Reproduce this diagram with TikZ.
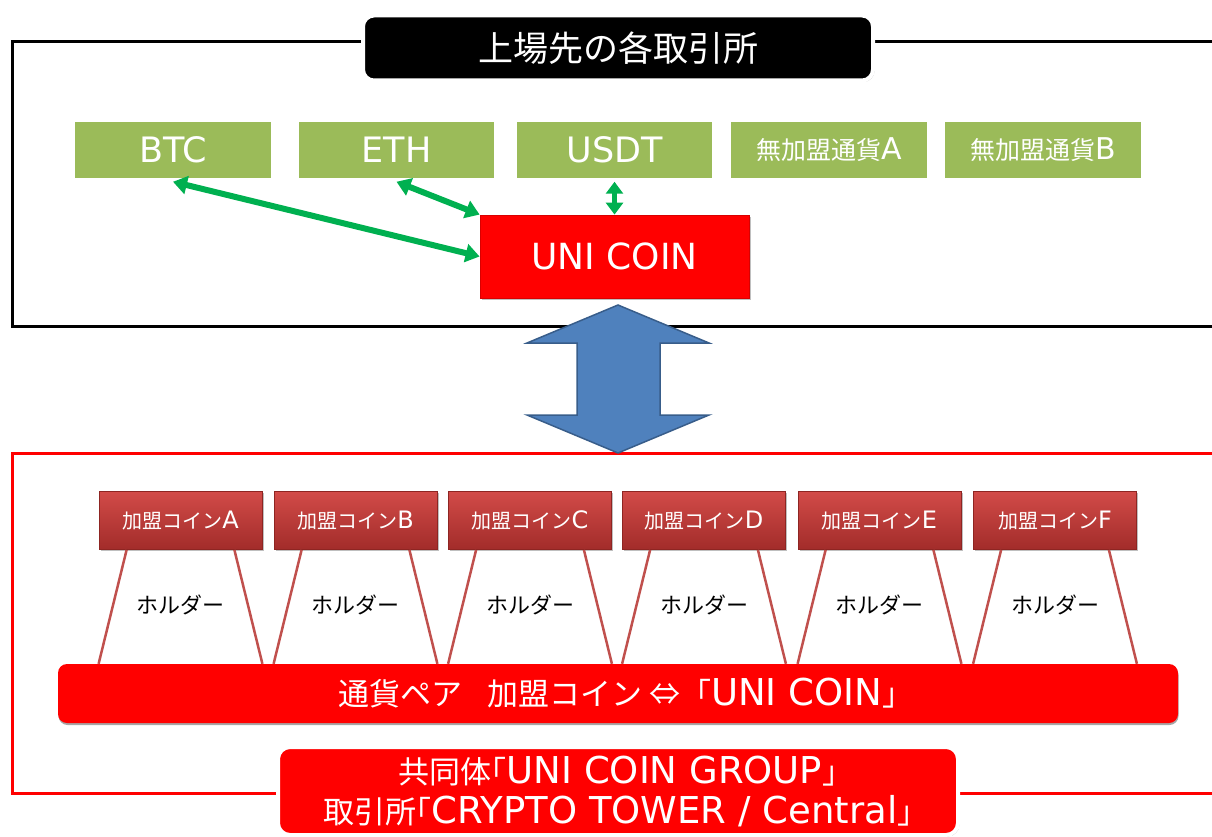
\documentclass[tikz,border=0pt]{standalone}
\usepackage{fontspec}
\setmainfont{Noto Sans CJK JP}
\newfontfamily\latfont{DejaVu Sans}
\newfontfamily\jphalt{Noto Sans CJK JP}[RawFeature=+halt]
\newcommand\latn[2]{{\latfont\fontsize{#1}{#1}\selectfont #2}}
\newcommand\lbrk{{\jphalt 「}}
\newcommand\rbrk{{\jphalt 」}}
\usetikzlibrary{arrows.meta,shadows,calc}
\definecolor{cgreen}{HTML}{9BBB59}
\definecolor{cagreen}{HTML}{00B050}
\definecolor{cblue}{HTML}{4F81BD}
\definecolor{cblueedge}{HTML}{385D8A}
\definecolor{ccointop}{HTML}{D24B48}
\definecolor{ccoinbot}{HTML}{A22C2A}
\definecolor{ccoinedge}{HTML}{8E2522}
\definecolor{cholder}{HTML}{C0504D}
\definecolor{cred}{HTML}{FF0000}
\begin{document}
\begin{tikzpicture}[x=1pt,y=-1pt,
  softshadow/.style={drop shadow={shadow xshift=1.5pt,shadow yshift=-1.5pt,opacity=0.25,fill=black}},
  greenbox/.style={draw=white,line width=3.5pt,fill=cgreen,text=white,minimum width=199pt,minimum height=60pt,inner sep=0pt,softshadow},
  coinbox/.style={draw=ccoinedge,line width=0.8pt,top color=ccointop,bottom color=ccoinbot,text=white,minimum width=163pt,minimum height=58pt,inner sep=0pt,font=\fontsize{20}{24}\selectfont,softshadow},
  holderline/.style={draw=cholder,line width=2.5pt},
  holdertext/.style={text=black,font=\fontsize{22}{24}\selectfont},
  garrow/.style={draw=cagreen,line width=6pt,{Triangle[length=14pt,width=18pt]}-{Triangle[length=14pt,width=18pt]}},
  frameline/.style={line width=3pt}
]
\useasboundingbox (0,0) rectangle (1212,837);
% top frame
\draw[frameline,black] (1212,42) -- (12,42) -- (12,326) -- (1212,326);
% bottom frame
\draw[frameline,cred] (1212,453) -- (12,453) -- (12,793) -- (1212,793);
% title
\node[fill=black,draw=white,line width=4pt,rounded corners=11pt,minimum width=510pt,minimum height=65pt,text=white,font=\fontsize{35}{38}\selectfont,softshadow] (title) at (618,48) {上場先の各取引所};
% green boxes
\node[greenbox] (btc) at (173,150) {\latn{35}{BTC}};
\node[greenbox] (eth) at (396.5,150) {\latn{35}{ETH}};
\node[greenbox] (usdt) at (614.5,150) {\latn{35}{USDT}};
\node[greenbox,font=\fontsize{25}{30}\selectfont] (na) at (829,150) {無加盟通貨\latn{30}{A}};
\node[greenbox,font=\fontsize{25}{30}\selectfont] (nb) at (1043,150) {無加盟通貨\latn{30}{B}};
% UNI COIN
\node[fill=cred,draw=red!85!black,line width=0.8pt,minimum width=269pt,minimum height=83pt,text=white,softshadow] (uni) at (614.5,256.5) {\latn{36}{UNI COIN}};
% green arrows
\draw[garrow] (btc.south) -- (uni.west);
\draw[garrow] (eth.south) -- (uni.north west);
\draw[draw=cagreen,line width=5.5pt,{Triangle[length=12pt,width=17pt]}-{Triangle[length=12pt,width=17pt]}] (usdt.south) -- (uni.north);
% blue double arrow
\draw[fill=cblue,draw=cblueedge,line width=1.5pt,line join=miter] (618,305) -- (709,343) -- (660,343) -- (660,415) -- (709,415) -- (618,453) -- (527,415) -- (577,415) -- (577,343) -- (527,343) -- cycle;
% bar
\node[fill=cred,rounded corners=9pt,minimum width=1120pt,minimum height=59pt,inner sep=0pt,text=white,font=\fontsize{31}{34}\selectfont,drop shadow={shadow xshift=0.5pt,shadow yshift=-2pt,opacity=0.35,fill=black}] (bar) at (618,693.5) {通貨ペア\hspace{0.8em}加盟コイン ⇔\hspace{0.5em}\lbrk\latn{37}{UNI COIN}\rbrk};
% coins
\node[coinbox] (cA) at (180.5,520.5) {加盟コイン\latn{24}{A}};
\node[coinbox] (cB) at (355.5,520.5) {加盟コイン\latn{24}{B}};
\node[coinbox] (cC) at (530,520.5) {加盟コイン\latn{24}{C}};
\node[coinbox] (cD) at (704,520.5) {加盟コイン\latn{24}{D}};
\node[coinbox] (cE) at (879.5,520.5) {加盟コイン\latn{24}{E}};
\node[coinbox] (cF) at (1055,520.5) {加盟コイン\latn{24}{F}};
% holders
\foreach \c in {cA,cB,cC,cD,cE,cF}{
  \draw[holderline] ($(\c.south west)+(28,0)$) -- (\c.south west |- bar.north);
  \draw[holderline] ($(\c.south east)+(-28,0)$) -- (\c.south east |- bar.north);
}
\node[holdertext] (hA) at (180.5,605) {ホルダー};
\node[holdertext] (hB) at (355.5,605) {ホルダー};
\node[holdertext] (hC) at (530,605) {ホルダー};
\node[holdertext] (hD) at (704,605) {ホルダー};
\node[holdertext] (hE) at (879.5,605) {ホルダー};
\node[holdertext] (hF) at (1055,605) {ホルダー};
% bottom group box
\node[fill=cred,draw=white,line width=4pt,rounded corners=12pt,minimum width=680pt,minimum height=88pt,inner sep=0pt,align=center,text=white,font=\fontsize{31}{40}\selectfont,softshadow] (grp) at (618,791) {共同体\lbrk\latn{37}{UNI COIN GROUP}\rbrk\\取引所\lbrk\latn{37}{CRYPTO TOWER / Central}\rbrk};
\end{tikzpicture}
\end{document}
